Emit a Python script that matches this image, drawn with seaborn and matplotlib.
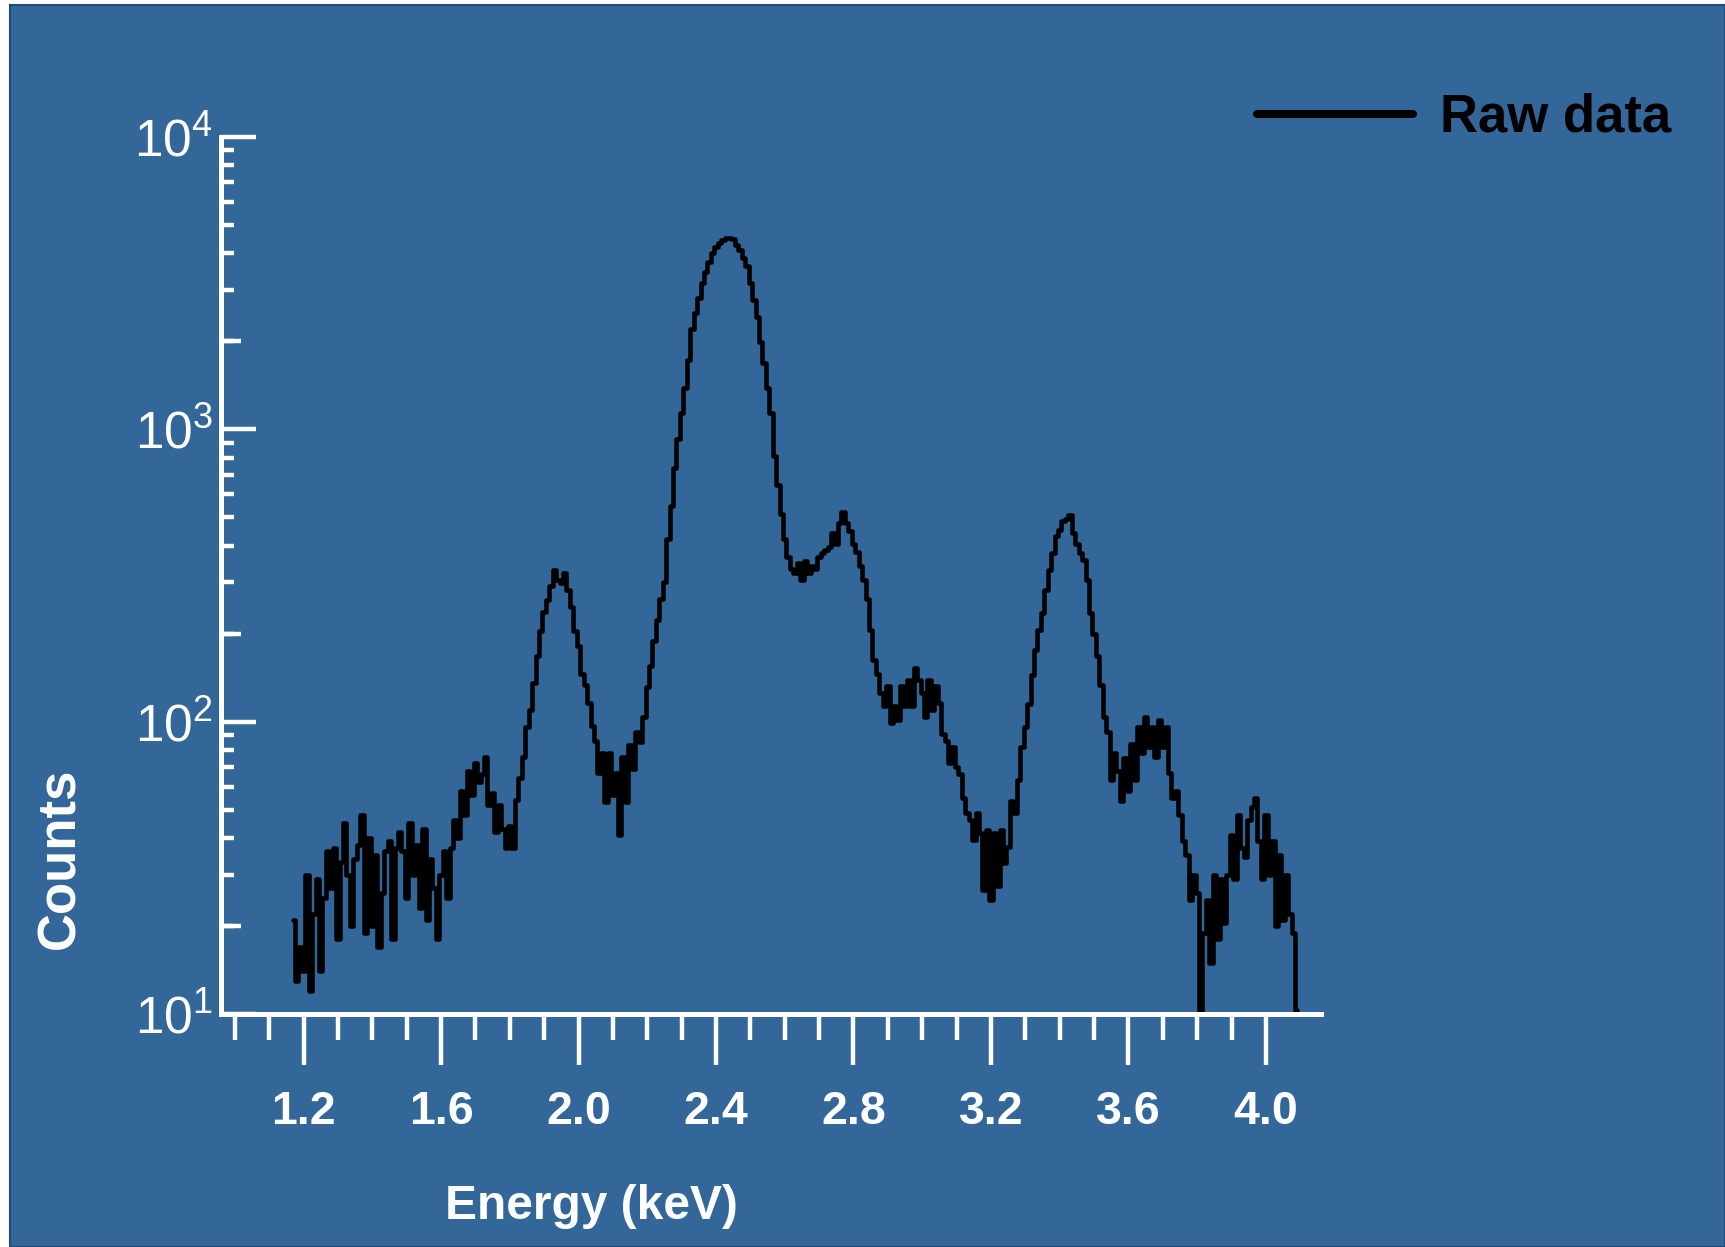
import numpy as np
import pandas as pd
import matplotlib
matplotlib.use("Agg")
import matplotlib.pyplot as plt
import seaborn as sns
from matplotlib.ticker import FixedLocator, LogLocator, NullFormatter
from matplotlib.patches import Rectangle

# ---------------- data ----------------
energy_start_kev = 1.17
energy_step_kev = 0.01

counts_1p17_1p70 = [21, 13, 17, 14, 30, 12, 22, 29, 14, 25,
                    36, 27, 37, 18, 33, 45, 30, 20, 34, 38,
                    48, 19, 40, 20, 35, 17, 26, 36, 39, 18,
                    37, 42, 36, 25, 45, 30, 38, 23, 43, 21,
                    34, 27, 18, 30, 36, 25, 37, 46, 40, 58,
                    48, 68, 56, 72]
counts_1p71_2p17 = [62, 66, 76, 52, 57, 42, 52, 43, 37, 44,
                    37, 54, 64, 76, 96, 110, 136, 168, 205, 238,
                    260, 290, 330, 305, 298, 322, 282, 247, 205, 182,
                    145, 133, 116, 97, 86, 67, 78, 53, 78, 56,
                    67, 41, 76, 53, 83, 69, 92]
counts_2p18_2p70 = [85, 104, 131, 155, 189, 222, 263, 300, 420, 546,
                    735, 925, 1135, 1382, 1730, 2200, 2500, 2820, 3170, 3440,
                    3740, 4000, 4200, 4340, 4450, 4500, 4500, 4470, 4270, 4100,
                    3860, 3620, 3170, 2770, 2430, 1990, 1680, 1380, 1135, 813,
                    645, 513, 420, 367, 333, 322, 350, 305, 355, 322,
                    340, 333, 367]
counts_2p71_3p21 = [377, 388, 397, 443, 405, 480, 523, 480, 448, 405,
                    380, 340, 305, 262, 206, 162, 146, 125, 113, 132,
                    99, 113, 101, 132, 113, 139, 113, 153, 139, 125,
                    104, 139, 110, 132, 116, 91, 86, 72, 82, 70,
                    66, 55, 48.6, 46, 39.5, 48.6, 41.7, 26.5, 42.6, 24.5,
                    41.7]
counts_3p22_3p71 = [27.5, 42.6, 32.8, 37.4, 53.5, 48.6, 63, 82, 96, 115,
                    144, 176, 206, 235, 282, 330, 377, 430, 453, 485,
                    492, 510, 443, 405, 377, 357, 305, 235, 200, 168,
                    134, 104, 92, 63, 78, 68, 53.5, 75, 58, 84,
                    63, 96, 78, 104, 82, 96, 76, 101, 82, 96]
counts_3p72_4p09 = [67, 55, 58, 48, 39, 35, 24.5, 30, 26, 10,
                    19, 24.5, 15, 30, 18, 29, 20.4, 30, 41, 29,
                    48, 37, 34.5, 46, 51, 55, 39, 29, 48, 30,
                    39, 20, 35, 21, 30, 22, 19, 10.3]

counts = (counts_1p17_1p70 + counts_1p71_2p17 + counts_2p18_2p70 +
          counts_2p71_3p21 + counts_3p22_3p71 + counts_3p72_4p09)
energy = np.round(energy_start_kev + energy_step_kev * np.arange(len(counts)), 2)

x_major_ticks = [1.2, 1.6, 2.0, 2.4, 2.8, 3.2, 3.6, 4.0]
x_tick_labels = ["1.2", "1.6", "2.0", "2.4", "2.8", "3.2", "3.6", "4.0"]
x_minor_ticks = list(np.round(np.arange(10, 40) / 10, 1))
y_major_ticks = [10, 100, 1000, 10000]
y_mid_ticks = [20, 200, 2000]
legend_label = "Raw data"
x_label = "Energy (keV)"
y_label = "Counts"

# ---------------- style ----------------
sns.set_style("ticks")
plt.rcParams["font.family"] = ["Liberation Sans", "DejaVu Sans"]
plt.rcParams["mathtext.fontset"] = "custom"
plt.rcParams["mathtext.rm"] = "Liberation Sans"
plt.rcParams["mathtext.it"] = "Liberation Sans:italic"
plt.rcParams["mathtext.bf"] = "Liberation Sans:bold"

W, H = 1725, 1247
bg = "#336699"
fig = plt.figure(figsize=(W / 100, H / 100), dpi=100, facecolor="white")
fig.patches.append(Rectangle((10 / W, 0), 1 - 10 / W, 1 - 5 / H,
                             transform=fig.transFigure, facecolor=bg,
                             edgecolor="#1c4c7c", lw=1.5, zorder=-5))

ax_l, ax_r, ax_t, ax_b = 221, 1321, 137, 1014
ax = fig.add_axes([ax_l / W, 1 - ax_b / H, (ax_r - ax_l) / W, (ax_b - ax_t) / H])
ax.set_facecolor("none")
ax.set_zorder(2)

df = pd.DataFrame({"Energy": energy, "Counts": counts})
sns.lineplot(data=df, x="Energy", y="Counts", ax=ax, color="black",
             lw=3.3, drawstyle="steps-mid", estimator=None, label=legend_label)

ax.set_yscale("log")
ax.set_ylim(10, 1e4)
ax.set_xlim(0.96, 4.16)

# spines
for s in ["top", "right"]:
    ax.spines[s].set_visible(False)
for s in ["left", "bottom"]:
    ax.spines[s].set_color("white")
    ax.spines[s].set_linewidth(3.6)

# x ticks
ax.set_xticks(x_major_ticks, labels=x_tick_labels, fontweight="bold",
              fontsize=33.5, color="white")
ax.xaxis.set_minor_locator(FixedLocator(x_minor_ticks))
ax.tick_params(axis="x", which="major", direction="out", length=37, width=3.2,
               color="white", pad=18)
ax.tick_params(axis="x", which="minor", direction="out", length=19, width=3.2,
               color="white")

# y ticks
ax.yaxis.set_major_locator(FixedLocator(y_major_ticks))
ax.yaxis.set_minor_locator(LogLocator(base=10, subs=np.arange(2, 10)))
ax.yaxis.set_minor_formatter(NullFormatter())
ax.tick_params(axis="y", which="major", direction="in", length=25, width=3.2,
               color="white", labelcolor="white", labelsize=37, pad=6)
ax.tick_params(axis="y", which="minor", direction="in", length=9, width=3.2,
               color="white")

sec = ax.secondary_yaxis("left")
sec.yaxis.set_major_locator(FixedLocator(y_mid_ticks))
sec.yaxis.set_minor_locator(FixedLocator([]))
sec.tick_params(axis="y", which="major", direction="in", length=14.5, width=3.2,
                color="white", labelleft=False)
sec.spines["left"].set_visible(False)

# labels
ax.set_xlabel(x_label, fontsize=34.5, fontweight="bold", color="white", va="center")
ax.xaxis.set_label_coords(0.337, -0.22)
ax.set_ylabel(y_label, fontsize=38, fontweight="bold", color="white", va="center")
ax.yaxis.set_label_coords(-0.146, 0.178)

# legend
leg = ax.legend(loc="center left", bbox_to_anchor=(1257 / W, 1 - 118 / H),
                bbox_transform=fig.transFigure, frameon=False, borderpad=0,
                borderaxespad=0, handlelength=2.95, handletextpad=0.51,
                prop={"weight": "bold", "size": 38})
for h in leg.get_lines():
    h.set_linewidth(5.8)
for t in leg.get_texts():
    t.set_color("black")

fig.savefig("out.png", dpi=100, facecolor=fig.get_facecolor())
